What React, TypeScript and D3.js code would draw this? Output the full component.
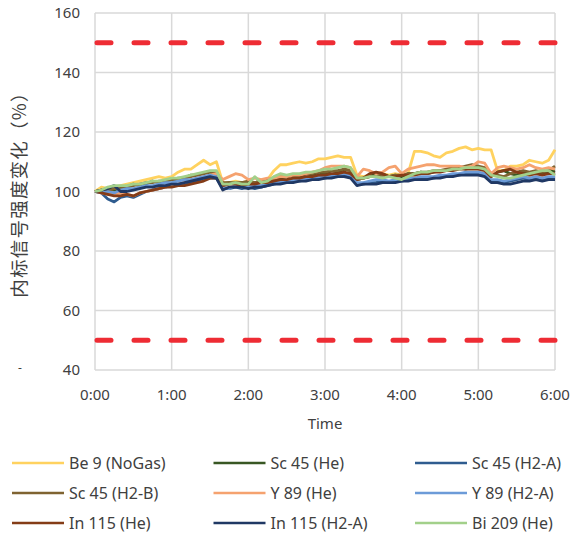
import React from "react";
import * as d3 from "d3";

// sampling times in minutes (every 5 min over 6 hours)
const minutes = d3.range(0, 365, 5);
const xTicks = [0, 60, 120, 180, 240, 300, 360];
const yTicks = [40, 60, 80, 100, 120, 140, 160];
const limitLines = [50, 150];

const be9NoGas = [
  100, 101.5, 101, 101.5, 102, 102.5, 103, 103.5, 104, 104.5,
  105, 104.5, 105, 106.5, 107.5, 107.5, 109, 110.5, 109, 110,
  103, 103, 103.5, 103, 103.5, 103, 103.5, 104, 107, 109,
  109, 109.5, 110, 109.5, 110, 111, 111, 111.5, 112, 111.5,
  111.5, 105.5, 105, 105.5, 105, 106, 105.5, 106, 105.5, 106,
  113.5, 113.5, 113, 112, 111.5, 113, 113.5, 114.5, 115, 114,
  114.5, 114, 114, 107, 107, 108.5, 108.5, 109, 110.5, 110,
  109.5, 110.5, 114,
];
const sc45He = [
  100, 100.5, 101, 100.5, 101, 101.5, 102.5, 102, 102.5, 103.5,
  103, 103.5, 104, 104.5, 104.5, 105.5, 105.5, 106, 106.5, 106,
  102.5, 103, 102.5, 103, 103, 103, 103.5, 103.5, 104.5, 104.5,
  105, 105.5, 105, 106, 105.5, 106.5, 106, 107, 106.5, 107.5,
  107, 104, 104.5, 105, 106, 106, 105, 105.5, 105, 106,
  106, 106.5, 106, 106.5, 107, 107, 107.5, 108, 107.5, 108,
  108, 107.5, 105, 106.5, 107, 106, 105.5, 106.5, 106, 106.5,
  106, 106.5, 107,
];
const sc45H2A = [
  100, 99.5, 97.5, 96.5, 98, 98.5, 98, 99, 100, 100.5,
  101, 101.5, 102, 102, 102.5, 103, 103.5, 104.5, 104.5, 104.5,
  101, 101, 101.5, 101, 101.5, 101, 101.5, 102, 102.5, 103,
  103, 103.5, 103.5, 104, 104, 104.5, 104.5, 105, 105, 105.5,
  105, 102.5, 102.5, 103, 103, 103.5, 103, 103.5, 103.5, 104,
  104, 104.5, 104.5, 104.5, 105, 105, 105.5, 105.5, 106, 106,
  106, 105.5, 103.5, 103.5, 103, 103.5, 104, 104.5, 104, 104.5,
  104, 104.5, 104.5,
];
const sc45H2B = [
  100, 100.5, 100, 101, 101, 101.5, 102, 102.5, 103, 103,
  103.5, 103.5, 104, 104, 104.5, 105, 105.5, 106, 106.5, 106.5,
  103, 103, 103, 103, 103.5, 103, 103.5, 104, 104, 105,
  105, 105.5, 105.5, 106, 106, 106.5, 106.5, 107, 107, 107.5,
  107, 104.5, 104.5, 105, 105, 105.5, 105, 105.5, 105.5, 106,
  106, 106.5, 106.5, 107, 107, 107.5, 108, 108, 108.5, 109,
  108.5, 108, 105.5, 105.5, 105, 106, 106.5, 107, 106.5, 107,
  106.5, 107, 108.5,
];
const y89He = [
  100, 99.5, 99, 99, 99.5, 99, 98.5, 99.5, 100, 100.5,
  101, 101.5, 102, 102.5, 103, 104, 104.5, 105, 105.5, 106,
  104, 105, 106, 105.5, 104, 104.5, 104, 104.5, 104.5, 105,
  105, 105.5, 105.5, 106, 106.5, 107, 108, 108.5, 108.5, 108.5,
  108, 105, 107.5, 107, 106, 106.5, 108, 108.5, 106, 107.5,
  108, 108.5, 109, 109, 108.5, 108.5, 108.5, 108.5, 108, 108.5,
  110, 109.5, 106, 108, 108.5, 108, 107.5, 108, 109, 108,
  107.5, 108, 107.5,
];
const y89H2A = [
  100, 99.5, 100, 99.5, 100.5, 101, 101, 101.5, 102, 102,
  102.5, 103, 103, 103.5, 104, 104, 104.5, 105, 105.5, 105,
  101.5, 101, 102, 101.5, 102, 102, 102, 102.5, 103, 103.5,
  103.5, 104, 104, 104.5, 104.5, 105, 105, 105.5, 105.5, 106,
  105.5, 103, 103, 103.5, 104, 104, 103.5, 104, 104, 104.5,
  104.5, 105, 105, 105, 105.5, 105.5, 106, 106, 106.5, 106.5,
  106.5, 106, 104, 104, 103.5, 104, 104.5, 105, 104.5, 105,
  104.5, 105, 105,
];
const in115He = [
  100, 99.5, 99, 98.5, 98.5, 99, 98.5, 99.5, 100, 100.5,
  101, 101.5, 101.5, 102, 102, 102.5, 103, 103.5, 104.5, 104.5,
  102, 102.5, 102.5, 102, 102.5, 102.5, 103, 103, 103.5, 104,
  104, 104.5, 104.5, 105, 105, 105.5, 105.5, 106, 106, 106.5,
  106, 104, 104.5, 106, 106.5, 106, 105, 105, 105.5, 105.5,
  105.5, 106, 106, 106.5, 106.5, 107, 107, 107.5, 107.5, 107.5,
  107.5, 107, 105, 106.5, 107, 107.5, 106.5, 106, 105.5, 106,
  105.5, 106, 106,
];
const in115H2A = [
  100, 100.5, 101, 102, 100, 100, 100.5, 101, 101.5, 101.5,
  102, 102, 102.5, 102.5, 103, 103.5, 104, 104.5, 105, 104.5,
  100.5, 101.5, 101.5, 101.5, 101, 101.5, 101.5, 102, 102.5, 102.5,
  103, 103, 103.5, 103.5, 104, 104, 104.5, 104.5, 105, 105,
  104.5, 102, 102.5, 102.5, 102.5, 103, 103, 103, 103.5, 103.5,
  104, 104, 104, 104.5, 104.5, 105, 105, 105.5, 105.5, 105.5,
  105.5, 105, 103, 103, 102.5, 102.5, 103, 103.5, 103.5, 104,
  103.5, 104, 104,
];
const bi209He = [
  100, 100.5, 101.5, 102, 102, 102, 102.5, 102.5, 103, 103.5,
  103.5, 104, 104.5, 104.5, 105, 105.5, 106, 106.5, 107, 107,
  102.5, 102.5, 103, 102.5, 102.5, 105, 103, 103.5, 105, 106,
  105.5, 106, 106, 106.5, 106.5, 107, 107.5, 107.5, 108, 108.5,
  108, 104.5, 104.5, 105, 105, 104.5, 105, 104.5, 104, 105,
  106, 106.5, 106.5, 107, 107, 107, 107.5, 107.5, 108, 108,
  108, 107.5, 105.5, 105, 104.5, 104.5, 105, 105.5, 106, 106.5,
  107, 107, 105.5,
];

const seriesNames = [
  "Be 9 (NoGas)", "Sc 45 (He)", "Sc 45 (H2-A)",
  "Sc 45 (H2-B)", "Y 89 (He)", "Y 89 (H2-A)",
  "In 115 (He)", "In 115 (H2-A)", "Bi 209 (He)",
];
const seriesValues = [be9NoGas, sc45He, sc45H2A, sc45H2B, y89He, y89H2A, in115He, in115H2A, bi209He];
const seriesColors = [
  "#FFD25F", "#385723", "#2F5C8F",
  "#7F6331", "#F5A26F", "#6C9BD8",
  "#843C17", "#203864", "#A2D08A",
];

const W = 572;
const H = 537;
const plot = { left: 95, right: 555, top: 13, bottom: 370 };
const font = "'Noto Sans', 'DejaVu Sans', sans-serif";

export default function App() {
  const x = d3.scaleLinear().domain([0, 360]).range([plot.left, plot.right]);
  const y = d3.scaleLinear().domain([40, 160]).range([plot.bottom, plot.top]);
  const line = d3
    .line<number>()
    .x((_, i) => x(minutes[i]))
    .y((d) => y(d));

  const fmt = (m: number) => `${m / 60}:00`;

  return (
    <svg
      width={W}
      height={H}
      style={{ position: "absolute", left: 0, top: 0, background: "#fff" }}
      fontFamily={font}
    >
      {/* grid */}
      {yTicks.map((t) => (
        <line key={"gy" + t} x1={plot.left} x2={plot.right} y1={y(t)} y2={y(t)} stroke="#D9D9D9" strokeWidth={1.5} />
      ))}
      {xTicks.map((t) => (
        <line key={"gx" + t} x1={x(t)} x2={x(t)} y1={plot.top} y2={plot.bottom} stroke="#D9D9D9" strokeWidth={1.5} />
      ))}

      {/* tick labels */}
      {yTicks.map((t) => (
        <text key={"ty" + t} x={80} y={y(t)} dy="0.35em" textAnchor="end" fontSize={15} fill="#404040">
          {t}
        </text>
      ))}
      {xTicks.map((t) => (
        <text key={"tx" + t} x={x(t)} y={400} textAnchor="middle" fontSize={15} fill="#404040">
          {fmt(t)}
        </text>
      ))}
      <text x={(plot.left + plot.right) / 2} y={429} textAnchor="middle" fontSize={15} fill="#404040">
        Time
      </text>
      <text
        transform={`translate(26, 190) rotate(-90)`}
        textAnchor="middle"
        fontSize={18.5}
        letterSpacing={1.2}
        fill="#404040"
        fontFamily="'Noto Sans CJK SC', 'Noto Sans', sans-serif"
      >
        内标信号强度变化（%）
      </text>
      <text x={20} y={372} textAnchor="middle" fontSize={12} fill="#404040">
        -
      </text>

      {/* series */}
      {seriesValues.map((vals, i) => (
        <path
          key={seriesNames[i]}
          d={line(vals) || ""}
          fill="none"
          stroke={seriesColors[i]}
          strokeWidth={2.8}
          strokeLinejoin="round"
        />
      ))}

      {/* limits */}
      {limitLines.map((v) => (
        <line
          key={"lim" + v}
          x1={plot.left + 2}
          x2={plot.right}
          y1={y(v)}
          y2={y(v)}
          stroke="#EE2C34"
          strokeWidth={5}
          strokeDasharray="14 23"
          strokeLinecap="round"
        />
      ))}

      {/* legend */}
      {seriesNames.map((name, i) => {
        const col = i % 3;
        const row = Math.floor(i / 3);
        const lx = 12 + col * 201.5;
        const ly = 463 + row * 30;
        return (
          <g key={"lg" + name} transform={`translate(${lx}, ${ly})`}>
            <line x1={0} x2={52} y1={0} y2={0} stroke={seriesColors[i]} strokeWidth={2.5} />
            <text x={57} y={0} dy="0.35em" fontSize={16} fill="#404040">
              {name}
            </text>
          </g>
        );
      })}
    </svg>
  );
}
